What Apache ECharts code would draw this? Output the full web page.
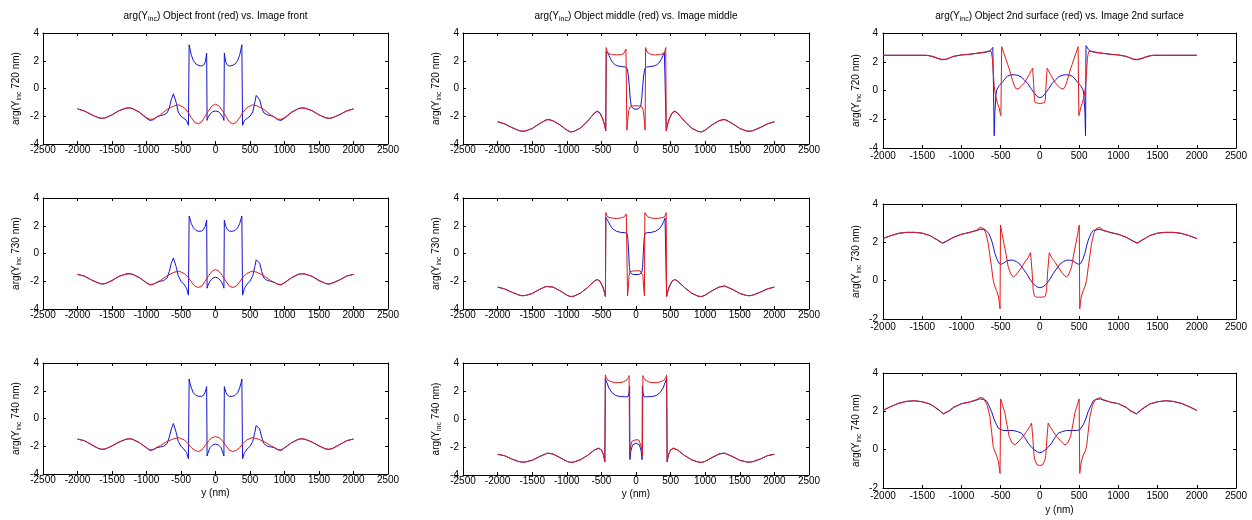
<!DOCTYPE html>
<html><head><meta charset="utf-8">
<script src="https://cdn.jsdelivr.net/npm/echarts/dist/echarts.min.js"></script>
<style>html,body{margin:0;padding:0;background:#fff}#c{width:1252px;height:520px}</style>
</head><body><div id="c"></div>
<script>
// ---------------- DATA ----------------
const titles = [
  ['arg(Y', 'inc', ') Object front (red) vs. Image front'],
  ['arg(Y', 'inc', ') Object middle (red) vs. Image middle'],
  ['arg(Y', 'inc', ') Object 2nd surface (red) vs. Image 2nd surface']
];
const wavelengths = ['720', '730', '740'];

// front column: shared x positions
const frontRedX = [-2000,-1900,-1800,-1700,-1650,-1600,-1500,-1400,-1300,-1250,-1200,-1100,-1000,-950,-900,-800,-700,-600,-530,-450,-400,-350,-300,-250,-200,-150,-100,-50,0,50,100,150,200,250,300,350,400,450,530,600,700,800,900,950,1000,1100,1200,1250,1300,1400,1500,1600,1650,1700,1800,1900,2000];
const front720RedY = [-1.47,-1.62,-1.88,-2.10,-2.15,-2.12,-1.90,-1.60,-1.42,-1.40,-1.45,-1.72,-2.10,-2.22,-2.20,-1.90,-1.50,-1.25,-1.18,-1.40,-1.70,-2.10,-2.45,-2.55,-2.40,-2.00,-1.60,-1.25,-1.13,-1.25,-1.60,-2.00,-2.40,-2.55,-2.45,-2.10,-1.70,-1.40,-1.18,-1.25,-1.50,-1.90,-2.20,-2.22,-2.10,-1.72,-1.45,-1.40,-1.42,-1.60,-1.90,-2.12,-2.15,-2.10,-1.88,-1.62,-1.47];
const front730RedY = [-1.50,-1.63,-1.90,-2.12,-2.20,-2.17,-1.95,-1.65,-1.48,-1.46,-1.50,-1.75,-2.10,-2.24,-2.20,-1.95,-1.60,-1.35,-1.27,-1.45,-1.70,-2.05,-2.35,-2.45,-2.35,-2.00,-1.60,-1.28,-1.15,-1.28,-1.60,-2.00,-2.35,-2.45,-2.35,-2.05,-1.70,-1.45,-1.27,-1.35,-1.60,-1.95,-2.20,-2.24,-2.10,-1.75,-1.50,-1.46,-1.48,-1.65,-1.95,-2.17,-2.20,-2.12,-1.90,-1.63,-1.50];
const front740RedY = [-1.48,-1.60,-1.88,-2.15,-2.22,-2.20,-1.98,-1.70,-1.50,-1.46,-1.50,-1.75,-2.10,-2.27,-2.22,-1.95,-1.65,-1.45,-1.38,-1.55,-1.80,-2.10,-2.30,-2.38,-2.28,-1.95,-1.60,-1.38,-1.31,-1.38,-1.60,-1.95,-2.28,-2.38,-2.30,-2.10,-1.80,-1.55,-1.38,-1.45,-1.65,-1.95,-2.22,-2.27,-2.10,-1.75,-1.50,-1.46,-1.50,-1.70,-1.98,-2.20,-2.22,-2.15,-1.88,-1.60,-1.48];

const frontBlueX = [-2000,-1900,-1800,-1700,-1650,-1600,-1500,-1400,-1300,-1250,-1200,-1100,-1000,-950,-900,-850,-800,-750,-700,-670,-640,-610,-590,-570,-540,-500,-460,-420,-392,-382,-370,-350,-320,-280,-240,-200,-170,-150,-135,-128,-122,-110,-80,-40,0,40,80,110,122,128,135,150,170,200,240,280,320,350,370,382,392,420,460,500,540,570,590,610,640,670,700,750,800,850,900,950,1000,1100,1200,1250,1300,1400,1500,1600,1650,1700,1800,1900,2000];
const front720BlueY = [-1.47,-1.62,-1.88,-2.10,-2.15,-2.12,-1.90,-1.60,-1.42,-1.40,-1.45,-1.72,-2.15,
  -2.30,-2.25,-2.05,-1.95,-1.90,-1.75,-1.40,-0.80,-0.38,-0.50,
  -1.00,-1.70,-2.00,-2.15,-2.30,-2.65,3.15,2.85,2.40,2.00,
  1.75,1.65,1.62,1.70,1.90,2.30,2.55,-2.30,-2.10,-1.85,
  -1.67,-1.62,
  -1.67,-1.85,-2.10,-2.30,2.55,2.30,1.90,1.70,1.62,1.65,1.75,2.00,2.40,2.85,3.15,-2.65,-2.30,-2.15,-2.00,-1.70,-1.00,-0.50,-0.38,-0.80,-1.40,-1.75,-1.90,-1.95,-2.05,-2.25,-2.30,
  -2.15,-1.72,-1.45,-1.40,-1.42,-1.60,-1.90,-2.12,-2.15,-2.10,-1.88,-1.62,-1.47];
const front730BlueY = [-1.50,-1.63,-1.90,-2.12,-2.20,-2.17,-1.95,-1.65,-1.48,-1.46,-1.50,-1.75,-2.12,
  -2.27,-2.22,-2.08,-2.00,-1.95,-1.75,-1.30,-0.70,-0.32,-0.45,
  -0.95,-1.60,-2.00,-2.20,-2.50,-3.00,2.70,2.50,2.15,1.85,
  1.65,1.60,1.62,1.75,1.95,2.25,2.40,-2.50,-2.30,-2.00,
  -1.78,-1.70,
  -1.78,-2.00,-2.30,-2.50,2.40,2.25,1.95,1.75,1.62,1.60,1.65,1.85,2.15,2.50,2.70,-3.00,-2.50,-2.20,-2.00,-1.60,-0.95,-0.45,-0.32,-0.70,-1.30,-1.75,-1.95,-2.00,-2.08,-2.22,-2.27,
  -2.12,-1.75,-1.50,-1.46,-1.48,-1.65,-1.95,-2.17,-2.20,-2.12,-1.90,-1.63,-1.50];
const front740BlueY = [-1.48,-1.60,-1.88,-2.15,-2.22,-2.20,-1.98,-1.70,-1.50,-1.46,-1.50,-1.75,-2.12,
  -2.30,-2.25,-2.10,-2.05,-2.00,-1.80,-1.35,-0.75,-0.36,-0.50,
  -1.00,-1.65,-2.00,-2.20,-2.45,-2.90,2.85,2.55,2.20,1.85,
  1.65,1.60,1.60,1.70,1.90,2.15,2.30,-2.70,-2.50,-2.10,
  -1.90,-1.84,
  -1.90,-2.10,-2.50,-2.70,2.30,2.15,1.90,1.70,1.60,1.60,1.65,1.85,2.20,2.55,2.85,-2.90,-2.45,-2.20,-2.00,-1.65,-1.00,-0.50,-0.36,-0.75,-1.35,-1.80,-2.00,-2.05,-2.10,-2.25,-2.30,
  -2.12,-1.75,-1.50,-1.46,-1.50,-1.70,-1.98,-2.20,-2.22,-2.15,-1.88,-1.60,-1.48];

// middle column: [y (nm), arg]
const mid720Red = [[-2000,-2.39],[-1900,-2.55],[-1800,-2.80],[-1700,-3.02],[-1650,-3.08],[-1600,-3.07],[-1500,-2.88],[-1400,-2.55],[-1300,-2.28],[-1270,-2.25],[-1200,-2.32],[-1100,-2.62],[-1000,-3.00],[-950,-3.12],[-900,-3.10],[-800,-2.85],[-700,-2.35],[-600,-1.75],[-560,-1.62],[-520,-1.75],[-480,-2.20],[-450,-2.70],[-437,-3.05],[-430,2.95],[-415,2.65],[-390,2.50],[-340,2.45],[-280,2.42],[-220,2.44],[-180,2.50],[-160,2.62],[-145,2.85],[-138,2.95],[-132,-3.00],[-120,-2.30],[-105,-1.60],[-90,-1.35],[-60,-1.27],[-30,-1.25],[0,-1.25],[30,-1.25],[60,-1.27],[90,-1.35],[105,-1.60],[120,-2.30],[132,-3.00],[138,2.95],[145,2.85],[160,2.62],[180,2.50],[220,2.44],[280,2.42],[340,2.45],[390,2.50],[415,2.65],[430,2.95],[437,-3.05],[450,-2.70],[480,-2.20],[520,-1.75],[560,-1.62],[600,-1.75],[700,-2.35],[800,-2.85],[900,-3.10],[950,-3.12],[1000,-3.00],[1100,-2.62],[1200,-2.32],[1270,-2.25],[1300,-2.28],[1400,-2.55],[1500,-2.88],[1600,-3.07],[1650,-3.08],[1700,-3.02],[1800,-2.80],[1900,-2.55],[2000,-2.39]];
const mid720Blue = [[-2000,-2.39],[-1900,-2.55],[-1800,-2.80],[-1700,-3.02],[-1650,-3.08],[-1600,-3.07],[-1500,-2.88],[-1400,-2.55],[-1300,-2.26],[-1270,-2.22],[-1200,-2.32],[-1100,-2.62],[-1000,-3.00],[-950,-3.13],[-900,-3.10],[-800,-2.85],[-700,-2.35],[-600,-1.78],[-560,-1.65],[-520,-1.78],[-480,-2.20],[-450,-2.70],[-437,-3.05],[-430,2.70],[-410,2.60],[-390,2.40],[-370,2.15],[-340,1.90],[-300,1.70],[-260,1.62],[-200,1.58],[-150,1.55],[-125,1.40],[-110,0.90],[-96,0.15],[-82,-0.80],[-67,-1.30],[-40,-1.45],[0,-1.50],[40,-1.45],[67,-1.30],[82,-0.80],[96,0.15],[110,0.90],[125,1.40],[150,1.55],[200,1.58],[260,1.62],[300,1.70],[340,1.90],[370,2.15],[390,2.40],[410,2.60],[430,2.70],[437,-3.05],[450,-2.70],[480,-2.20],[520,-1.78],[560,-1.65],[600,-1.78],[700,-2.35],[800,-2.85],[900,-3.10],[950,-3.13],[1000,-3.00],[1100,-2.62],[1200,-2.32],[1270,-2.22],[1300,-2.26],[1400,-2.55],[1500,-2.88],[1600,-3.07],[1650,-3.08],[1700,-3.02],[1800,-2.80],[1900,-2.55],[2000,-2.39]];
const mid730Red = [[-2000,-2.42],[-1900,-2.55],[-1800,-2.78],[-1700,-2.98],[-1650,-3.04],[-1600,-3.03],[-1500,-2.88],[-1400,-2.60],[-1300,-2.38],[-1280,-2.35],[-1200,-2.42],[-1100,-2.68],[-1000,-3.00],[-950,-3.10],[-900,-3.08],[-800,-2.85],[-700,-2.45],[-600,-1.98],[-560,-1.87],[-520,-2.00],[-480,-2.40],[-455,-2.80],[-442,-3.10],[-436,2.95],[-420,2.70],[-390,2.60],[-340,2.55],[-280,2.52],[-230,2.55],[-190,2.60],[-160,2.70],[-140,2.85],[-128,2.95],[-122,-3.05],[-110,-2.40],[-100,-1.60],[-85,-1.30],[-60,-1.25],[-30,-1.25],[0,-1.25],[30,-1.25],[60,-1.25],[85,-1.30],[100,-1.60],[110,-2.40],[122,-3.05],[128,2.95],[140,2.85],[160,2.70],[190,2.60],[230,2.55],[280,2.52],[340,2.55],[390,2.60],[420,2.70],[436,2.95],[442,-3.10],[455,-2.80],[480,-2.40],[520,-2.00],[560,-1.87],[600,-1.98],[700,-2.45],[800,-2.85],[900,-3.08],[950,-3.10],[1000,-3.00],[1100,-2.68],[1200,-2.42],[1280,-2.35],[1300,-2.38],[1400,-2.60],[1500,-2.88],[1600,-3.03],[1650,-3.04],[1700,-2.98],[1800,-2.78],[1900,-2.55],[2000,-2.42]];
const mid730Blue = [[-2000,-2.42],[-1900,-2.55],[-1800,-2.78],[-1700,-2.98],[-1650,-3.04],[-1600,-3.03],[-1500,-2.88],[-1400,-2.60],[-1300,-2.37],[-1280,-2.33],[-1200,-2.42],[-1100,-2.68],[-1000,-3.00],[-950,-3.10],[-900,-3.08],[-800,-2.85],[-700,-2.45],[-600,-1.98],[-560,-1.88],[-520,-2.00],[-480,-2.40],[-455,-2.80],[-442,-3.10],[-436,2.60],[-420,2.55],[-400,2.30],[-370,2.00],[-330,1.75],[-280,1.60],[-220,1.52],[-160,1.50],[-130,1.45],[-118,1.10],[-105,0.00],[-95,-1.00],[-85,-1.35],[-50,-1.50],[0,-1.52],[50,-1.50],[85,-1.35],[95,-1.00],[105,0.00],[118,1.10],[130,1.45],[160,1.50],[220,1.52],[280,1.60],[330,1.75],[370,2.00],[400,2.30],[420,2.55],[436,2.60],[442,-3.10],[455,-2.80],[480,-2.40],[520,-2.00],[560,-1.88],[600,-1.98],[700,-2.45],[800,-2.85],[900,-3.08],[950,-3.10],[1000,-3.00],[1100,-2.68],[1200,-2.42],[1280,-2.33],[1300,-2.37],[1400,-2.60],[1500,-2.88],[1600,-3.03],[1650,-3.04],[1700,-2.98],[1800,-2.78],[1900,-2.55],[2000,-2.42]];
const mid740Red = [[-2000,-2.52],[-1900,-2.62],[-1800,-2.85],[-1700,-3.03],[-1650,-3.08],[-1600,-3.07],[-1500,-2.95],[-1400,-2.70],[-1300,-2.48],[-1270,-2.45],[-1200,-2.50],[-1100,-2.75],[-1000,-3.02],[-950,-3.10],[-900,-3.08],[-800,-2.90],[-700,-2.60],[-600,-2.20],[-540,-2.08],[-500,-2.20],[-470,-2.55],[-450,-3.05],[-443,3.15],[-430,2.95],[-400,2.75],[-350,2.65],[-300,2.60],[-250,2.60],[-200,2.62],[-160,2.70],[-130,2.80],[-110,2.95],[-100,3.10],[-93,-2.60],[-80,-2.00],[-60,-1.60],[-40,-1.50],[0,-1.48],[40,-1.50],[60,-1.60],[80,-2.00],[93,-2.60],[100,3.10],[110,2.95],[130,2.80],[160,2.70],[200,2.62],[250,2.60],[300,2.60],[350,2.65],[400,2.75],[430,2.95],[443,3.15],[450,-3.05],[470,-2.55],[500,-2.20],[540,-2.08],[600,-2.20],[700,-2.60],[800,-2.90],[900,-3.08],[950,-3.10],[1000,-3.02],[1100,-2.75],[1200,-2.50],[1270,-2.45],[1300,-2.48],[1400,-2.70],[1500,-2.95],[1600,-3.07],[1650,-3.08],[1700,-3.03],[1800,-2.85],[1900,-2.62],[2000,-2.52]];
const mid740Blue = [[-2000,-2.52],[-1900,-2.62],[-1800,-2.85],[-1700,-3.03],[-1650,-3.08],[-1600,-3.07],[-1500,-2.95],[-1400,-2.70],[-1300,-2.47],[-1270,-2.43],[-1200,-2.50],[-1100,-2.75],[-1000,-3.02],[-950,-3.10],[-900,-3.08],[-800,-2.90],[-700,-2.60],[-600,-2.22],[-540,-2.10],[-500,-2.22],[-470,-2.55],[-450,-3.05],[-443,2.90],[-420,2.60],[-390,2.20],[-350,1.90],[-300,1.70],[-250,1.62],[-200,1.60],[-150,1.58],[-115,1.60],[-100,1.90],[-92,2.35],[-88,-2.90],[-75,-2.30],[-50,-1.85],[0,-1.72],[50,-1.85],[75,-2.30],[88,-2.90],[92,2.35],[100,1.90],[115,1.60],[150,1.58],[200,1.60],[250,1.62],[300,1.70],[350,1.90],[390,2.20],[420,2.60],[443,2.90],[450,-3.05],[470,-2.55],[500,-2.22],[540,-2.10],[600,-2.22],[700,-2.60],[800,-2.90],[900,-3.08],[950,-3.10],[1000,-3.02],[1100,-2.75],[1200,-2.50],[1270,-2.43],[1300,-2.47],[1400,-2.70],[1500,-2.95],[1600,-3.07],[1650,-3.08],[1700,-3.03],[1800,-2.85],[1900,-2.62],[2000,-2.52]];

// 2nd surface column: [y (nm), arg]
const surf720Red = [[-2000,2.45],[-1800,2.45],[-1600,2.45],[-1450,2.45],[-1400,2.42],[-1350,2.35],[-1300,2.25],[-1250,2.17],[-1200,2.18],[-1150,2.27],[-1100,2.38],[-1000,2.48],[-900,2.52],[-800,2.60],[-700,2.68],[-650,2.75],[-620,2.70],[-605,2.20],[-595,1.30],[-582,0.30],[-565,-0.35],[-540,-0.90],[-520,-1.20],[-505,-1.60],[-497,-1.75],[-487,3.05],[-460,2.60],[-434,2.20],[-410,1.80],[-391,1.50],[-370,1.10],[-349,0.70],[-320,0.25],[-300,0.10],[-264,0.15],[-230,0.35],[-200,0.50],[-170,0.80],[-136,1.10],[-110,1.40],[-93,1.55],[-80,0.50],[-70,-0.60],[-60,-0.85],[-30,-0.88],[0,-0.90],[30,-0.88],[60,-0.85],[70,-0.60],[80,0.50],[93,1.55],[110,1.40],[136,1.10],[170,0.80],[200,0.50],[230,0.35],[264,0.15],[300,0.10],[320,0.25],[349,0.70],[370,1.10],[391,1.50],[410,1.80],[434,2.20],[460,2.60],[487,3.05],[497,-1.75],[505,-1.60],[520,-1.20],[540,-0.90],[565,-0.35],[582,0.30],[595,1.30],[605,2.20],[620,2.70],[650,2.75],[700,2.68],[800,2.60],[900,2.52],[1000,2.48],[1100,2.38],[1150,2.27],[1200,2.18],[1250,2.17],[1300,2.25],[1350,2.35],[1400,2.42],[1450,2.45],[1600,2.45],[1800,2.45],[2000,2.45]];
const surf720Blue = [[-2000,2.45],[-1800,2.45],[-1600,2.45],[-1450,2.45],[-1400,2.40],[-1350,2.32],[-1300,2.22],[-1250,2.14],[-1200,2.16],[-1150,2.26],[-1100,2.37],[-1000,2.47],[-900,2.52],[-800,2.58],[-700,2.65],[-650,2.72],[-620,2.85],[-600,3.00],[-588,3.12],[-582,-3.15],[-574,-1.50],[-560,-0.30],[-550,0.04],[-520,0.35],[-476,0.60],[-440,0.85],[-412,1.00],[-370,1.08],[-327,1.10],[-280,1.05],[-242,0.96],[-200,0.75],[-157,0.50],[-115,0.15],[-72,-0.18],[-35,-0.42],[0,-0.50],[35,-0.42],[72,-0.18],[115,0.15],[157,0.50],[200,0.75],[242,0.96],[280,1.05],[327,1.10],[370,1.08],[412,1.00],[440,0.85],[476,0.60],[520,0.35],[550,0.04],[560,-0.30],[574,-1.50],[582,-3.15],[588,3.12],[600,3.00],[620,2.85],[650,2.72],[700,2.65],[800,2.58],[900,2.52],[1000,2.47],[1100,2.37],[1150,2.26],[1200,2.16],[1250,2.14],[1300,2.22],[1350,2.32],[1400,2.40],[1450,2.45],[1600,2.45],[1800,2.45],[2000,2.45]];
const surf730Red = [[-2000,2.20],[-1900,2.35],[-1800,2.47],[-1700,2.52],[-1600,2.52],[-1500,2.48],[-1400,2.35],[-1300,2.12],[-1240,1.97],[-1200,2.05],[-1100,2.27],[-1000,2.42],[-900,2.50],[-800,2.65],[-765,2.78],[-720,2.72],[-690,2.50],[-659,1.95],[-637,1.30],[-617,0.72],[-595,0.02],[-575,-0.30],[-553,-0.51],[-530,-0.80],[-515,-1.20],[-508,-1.47],[-502,2.90],[-480,2.40],[-459,1.95],[-430,1.35],[-404,0.72],[-370,0.35],[-340,0.19],[-310,0.28],[-276,0.45],[-230,0.72],[-191,0.98],[-150,1.20],[-119,1.46],[-100,0.50],[-85,-0.50],[-70,-0.80],[-43,-0.86],[0,-0.86],[43,-0.86],[70,-0.80],[85,-0.50],[100,0.50],[119,1.46],[150,1.20],[191,0.98],[230,0.72],[276,0.45],[310,0.28],[340,0.19],[370,0.35],[404,0.72],[430,1.35],[459,1.95],[480,2.40],[502,2.90],[508,-1.47],[515,-1.20],[530,-0.80],[553,-0.51],[575,-0.30],[595,0.02],[617,0.72],[637,1.30],[659,1.95],[690,2.50],[720,2.72],[765,2.78],[800,2.65],[900,2.50],[1000,2.42],[1100,2.27],[1200,2.05],[1240,1.97],[1300,2.12],[1400,2.35],[1500,2.48],[1600,2.52],[1700,2.52],[1800,2.47],[1900,2.35],[2000,2.20]];
const surf730Blue = [[-2000,2.20],[-1900,2.35],[-1800,2.47],[-1700,2.52],[-1600,2.52],[-1500,2.48],[-1400,2.35],[-1300,2.10],[-1240,1.95],[-1200,2.03],[-1100,2.26],[-1000,2.42],[-900,2.52],[-800,2.62],[-765,2.68],[-700,2.68],[-680,2.62],[-650,2.45],[-617,2.12],[-595,1.80],[-574,1.42],[-545,1.10],[-519,0.89],[-489,0.86],[-460,0.92],[-425,1.03],[-380,1.07],[-340,1.07],[-300,1.00],[-255,0.86],[-210,0.60],[-170,0.37],[-128,0.08],[-85,-0.16],[-40,-0.32],[0,-0.37],[40,-0.32],[85,-0.16],[128,0.08],[170,0.37],[210,0.60],[255,0.86],[300,1.00],[340,1.07],[380,1.07],[425,1.03],[460,0.92],[489,0.86],[519,0.89],[545,1.10],[574,1.42],[595,1.80],[617,2.12],[650,2.45],[680,2.62],[700,2.68],[765,2.68],[800,2.62],[900,2.52],[1000,2.42],[1100,2.26],[1200,2.03],[1240,1.95],[1300,2.10],[1400,2.35],[1500,2.48],[1600,2.52],[1700,2.52],[1800,2.47],[1900,2.35],[2000,2.20]];
const surf740Red = [[-2000,2.05],[-1900,2.25],[-1800,2.42],[-1700,2.52],[-1600,2.55],[-1500,2.50],[-1400,2.38],[-1300,2.12],[-1230,1.88],[-1150,2.05],[-1100,2.22],[-1000,2.40],[-900,2.48],[-800,2.62],[-770,2.72],[-720,2.70],[-702,2.60],[-670,2.30],[-638,1.74],[-615,0.90],[-595,0.16],[-575,-0.10],[-553,-0.28],[-530,-0.60],[-515,-1.00],[-508,-1.24],[-500,2.65],[-475,2.30],[-446,1.92],[-420,1.30],[-391,0.68],[-355,0.35],[-319,0.25],[-290,0.35],[-255,0.50],[-210,0.72],[-170,0.95],[-130,1.20],[-106,1.39],[-90,0.60],[-75,-0.30],[-64,-0.54],[-34,-0.80],[0,-0.82],[34,-0.80],[64,-0.54],[75,-0.30],[90,0.60],[106,1.39],[130,1.20],[170,0.95],[210,0.72],[255,0.50],[290,0.35],[319,0.25],[355,0.35],[391,0.68],[420,1.30],[446,1.92],[475,2.30],[500,2.65],[508,-1.24],[515,-1.00],[530,-0.60],[553,-0.28],[575,-0.10],[595,0.16],[615,0.90],[638,1.74],[670,2.30],[702,2.60],[720,2.70],[770,2.72],[800,2.62],[900,2.48],[1000,2.40],[1100,2.22],[1150,2.05],[1230,1.88],[1300,2.12],[1400,2.38],[1500,2.50],[1600,2.55],[1700,2.52],[1800,2.42],[1900,2.25],[2000,2.05]];
const surf740Blue = [[-2000,2.05],[-1900,2.25],[-1800,2.42],[-1700,2.52],[-1600,2.55],[-1500,2.50],[-1400,2.38],[-1300,2.10],[-1230,1.86],[-1150,2.03],[-1100,2.20],[-1000,2.40],[-900,2.48],[-800,2.60],[-770,2.65],[-720,2.62],[-680,2.55],[-650,2.30],[-617,2.00],[-585,1.60],[-553,1.30],[-530,1.12],[-510,1.04],[-468,1.00],[-400,1.00],[-340,1.00],[-290,0.95],[-234,0.86],[-190,0.62],[-149,0.34],[-105,0.12],[-64,-0.02],[-30,-0.12],[0,-0.16],[30,-0.12],[64,-0.02],[105,0.12],[149,0.34],[190,0.62],[234,0.86],[290,0.95],[340,1.00],[400,1.00],[468,1.00],[510,1.04],[530,1.12],[553,1.30],[585,1.60],[617,2.00],[650,2.30],[680,2.55],[720,2.62],[770,2.65],[800,2.60],[900,2.48],[1000,2.40],[1100,2.20],[1150,2.03],[1230,1.86],[1300,2.10],[1400,2.38],[1500,2.50],[1600,2.55],[1700,2.52],[1800,2.42],[1900,2.25],[2000,2.05]];

// ---------------- CHART ----------------
const FONT = '"Liberation Sans", Arial, Helvetica, sans-serif';
const BLUE = '#1414d2';
const RED = '#e41a1a';
const zip = (xs, ys) => xs.map((x, i) => [x, ys[i]]);

const panels = [
  {grid:{left:43, top:33, width:345, height:111}, xMin:-2500, yMin:-4, wl:0, blue:zip(frontBlueX, front720BlueY), red:zip(frontRedX, front720RedY), title:0, lm:4, xm:1},
  {grid:{left:463, top:33, width:346, height:111}, xMin:-2500, yMin:-4, wl:0, blue:mid720Blue, red:mid720Red, title:1, lm:4, xm:1},
  {grid:{left:883, top:33, width:353, height:115}, xMin:-2000, yMin:-4, wl:0, blue:surf720Blue, red:surf720Red, title:2, lm:5, xm:3},
  {grid:{left:43, top:198, width:345, height:111}, xMin:-2500, yMin:-4, wl:1, blue:zip(frontBlueX, front730BlueY), red:zip(frontRedX, front730RedY), lm:4, xm:1},
  {grid:{left:463, top:198, width:346, height:111}, xMin:-2500, yMin:-4, wl:1, blue:mid730Blue, red:mid730Red, lm:4, xm:1},
  {grid:{left:883, top:204, width:353, height:115}, xMin:-2000, yMin:-2, wl:1, blue:surf730Blue, red:surf730Red, lm:5, xm:3},
  {grid:{left:43, top:363, width:345, height:111}, xMin:-2500, yMin:-4, wl:2, blue:zip(frontBlueX, front740BlueY), red:zip(frontRedX, front740RedY), lm:4, xm:1, xName:14},
  {grid:{left:463, top:363, width:346, height:112}, xMin:-2500, yMin:-4, wl:2, blue:mid740Blue, red:mid740Red, lm:4, xm:1, xName:14},
  {grid:{left:883, top:373, width:353, height:115}, xMin:-2000, yMin:-2, wl:2, blue:surf740Blue, red:surf740Red, lm:5, xm:3, xName:17}
];

const rich = {
  n: {fontSize:10, fontFamily:FONT, fontWeight:'normal', color:'#000', lineHeight:12, verticalAlign:'top'},
  s: {fontSize:7, fontFamily:FONT, fontWeight:'normal', color:'#000', lineHeight:8, padding:[6,0,0,0], verticalAlign:'bottom'}
};
const labelStyle = {color:'#000', fontSize:10, fontFamily:FONT, fontWeight:'normal'};

const option = {animation:false, backgroundColor:'#fff', title:[], grid:[], xAxis:[], yAxis:[], series:[]};
panels.forEach((p, i) => {
  option.grid.push(Object.assign({show:false, containLabel:false, outerBoundsMode:'none'}, p.grid));
  const base = {
    type:'value', gridIndex:i, splitLine:{show:false},
    axisLine:{show:true, onZero:false, lineStyle:{color:'#000', width:1}},
    axisTick:{show:true, inside:true, length:3, lineStyle:{color:'#000', width:1}}
  };
  option.xAxis.push(Object.assign({}, base, {
    position:'bottom', min:p.xMin, max:2500, interval:500,
    axisLabel:Object.assign({show:true, margin:p.xm, formatter:v => String(v)}, labelStyle),
    name: p.xName ? 'y (nm)' : '', nameLocation:'middle', nameGap:p.xName || 0,
    nameTextStyle:Object.assign({}, labelStyle)
  }));
  option.xAxis.push(Object.assign({}, base, {position:'top', min:p.xMin, max:2500, interval:500, axisLabel:{show:false}}));
  option.yAxis.push(Object.assign({}, base, {
    position:'left', min:p.yMin, max:4, interval:2,
    axisLabel:Object.assign({show:true, margin:p.lm, formatter:v => String(v)}, labelStyle),
    name:'{n|arg(Y}{s|inc}{n| ' + wavelengths[p.wl] + ' nm)}', nameLocation:'middle', nameGap:20, nameRotate:90,
    nameTextStyle:{rich:rich}
  }));
  option.yAxis.push(Object.assign({}, base, {position:'right', min:p.yMin, max:4, interval:2, axisLabel:{show:false}}));
  option.series.push({type:'line', xAxisIndex:2*i, yAxisIndex:2*i, data:p.blue, showSymbol:false, symbol:'none', lineStyle:{color:BLUE, width:1}, itemStyle:{color:BLUE}, z:2, silent:true});
  option.series.push({type:'line', xAxisIndex:2*i, yAxisIndex:2*i, data:p.red, showSymbol:false, symbol:'none', lineStyle:{color:RED, width:1}, itemStyle:{color:RED}, z:3, silent:true});
  if (p.title !== undefined) {
    const t = titles[p.title];
    option.title.push({
      text:'{n|' + t[0] + '}{s|' + t[1] + '}{n|' + t[2] + '}',
      left:p.grid.left + p.grid.width / 2, top:11, textAlign:'center', padding:0,
      textStyle:{fontWeight:'normal', rich:rich}
    });
  }
});

const chart = echarts.init(document.getElementById('c'), null, {renderer:'canvas'});
chart.setOption(option);
</script></body></html>
